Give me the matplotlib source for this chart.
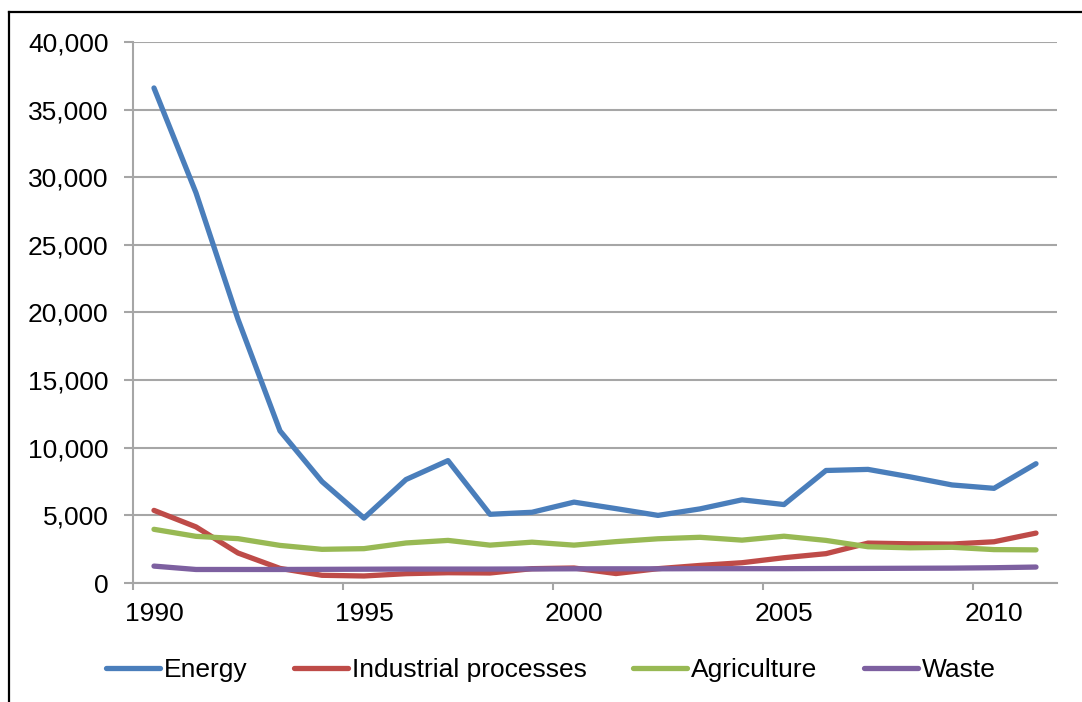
import matplotlib
matplotlib.use("Agg")
import matplotlib.pyplot as plt
from matplotlib.lines import Line2D
from matplotlib.ticker import FuncFormatter, FixedLocator

plt.rcParams['font.family'] = ['Liberation Sans', 'DejaVu Sans']

years = list(range(1990, 2012))
year_labels = ["1990", "1995", "2000", "2005", "2010"]

energy = [36600, 28850, 19500, 11250, 7500, 4800, 7650, 9050, 5080, 5230,
          5980, 5500, 5000, 5480, 6150, 5800, 8320, 8400, 7850, 7250,
          7000, 8820]
industrial = [5370, 4150, 2220, 1080, 570, 520, 690, 760, 740, 1060,
              1110, 700, 1060, 1300, 1500, 1870, 2170, 2950, 2900, 2880,
              3050, 3690]
agriculture = [3970, 3450, 3280, 2780, 2490, 2540, 2960, 3150, 2800, 3020,
               2800, 3060, 3270, 3380, 3170, 3460, 3150, 2680, 2600, 2640,
               2470, 2450]
waste = [1250, 1000, 1000, 1000, 1010, 1020, 1030, 1030, 1030, 1040,
         1050, 1050, 1050, 1060, 1060, 1060, 1070, 1080, 1090, 1100,
         1130, 1180]

series = [
    ("Energy", energy, "#4A7EBB"),
    ("Industrial processes", industrial, "#BE4B48"),
    ("Agriculture", agriculture, "#98B954"),
    ("Waste", waste, "#7D60A0"),
]

fig = plt.figure(figsize=(10.82, 7.02), dpi=100)
ax = fig.add_axes([0.1229, 0.1695, 0.8540, 0.7707])

x = list(range(len(years)))
for name, vals, color in series:
    ax.plot(x, vals, color=color, lw=3.8, label=name,
            solid_capstyle='round', solid_joinstyle='round')

grid_col = "#A6A6A6"
ax.set_xlim(-0.5, len(years) - 0.5)
ax.set_ylim(0, 40000)
ax.set_yticks(range(0, 40001, 5000))
ax.yaxis.set_major_formatter(FuncFormatter(lambda v, p: f"{int(v):,}"))
ax.yaxis.grid(True, color=grid_col, lw=1.5)
ax.set_axisbelow(True)

# tick marks sit between categories, labels centred on every fifth year
label_pos = [years.index(int(y)) for y in year_labels]
ax.xaxis.set_major_locator(FixedLocator([p - 0.5 for p in label_pos]))
ax.xaxis.set_minor_locator(FixedLocator(label_pos))
ax.set_xticklabels([], minor=False)
ax.set_xticklabels(year_labels, minor=True)
ax.tick_params(axis='x', which='major', length=5, width=1.5, color=grid_col,
               direction='out')
ax.tick_params(axis='x', which='minor', length=0, pad=14, labelsize=19)
ax.tick_params(axis='y', length=6.5, width=1.5, color=grid_col,
               direction='out', pad=11, labelsize=19)

for side in ("top", "right"):
    ax.spines[side].set_visible(False)
for side in ("left", "bottom"):
    ax.spines[side].set_color(grid_col)
    ax.spines[side].set_linewidth(1.5)

fig.legend(loc='center', bbox_to_anchor=(0.509, 0.045), ncol=4,
           frameon=False, fontsize=19, handlelength=2.05,
           handletextpad=0.15, columnspacing=1.75)

# chart frame (top and left edges)
fig.add_artist(Line2D([9 / 1082, 1.0], [1 - 12 / 702, 1 - 12 / 702],
                      transform=fig.transFigure, color="black", lw=1.6))
fig.add_artist(Line2D([9 / 1082, 9 / 1082], [0.0, 1 - 12 / 702],
                      transform=fig.transFigure, color="black", lw=1.6))

fig.savefig("out.png", dpi=100)
